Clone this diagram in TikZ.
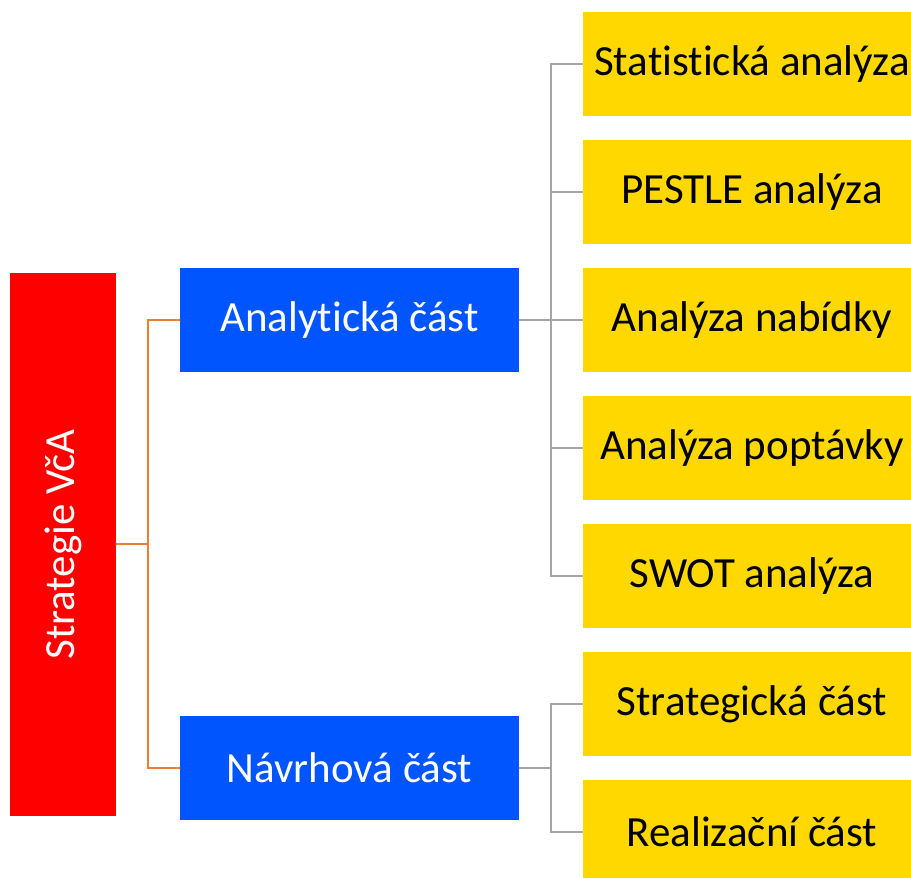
\documentclass[tikz,border=0pt]{standalone}
\usepackage{fontspec}
\setmainfont{Carlito}[Ligatures=NoCommon]
\definecolor{redbox}{HTML}{FF0000}
\definecolor{bluebox}{HTML}{0055FF}
\definecolor{yelbox}{HTML}{FFD800}
\definecolor{orline}{HTML}{ED7D31}
\definecolor{grline}{HTML}{A5A5A5}
\begin{document}
\begin{tikzpicture}[x=1pt,y=-1pt,
  base/.style={inner sep=0pt,outer sep=0pt,font=\fontsize{43}{50}\selectfont},
  rootbox/.style={base,fill=redbox,text=white,minimum width=106pt,minimum height=543pt},
  midbox/.style={base,fill=bluebox,text=white,minimum width=339pt,minimum height=104pt},
  leafbox/.style={base,fill=yelbox,minimum width=328pt,minimum height=104pt},
  leaftext/.style={base,text=black},
  orconn/.style={draw=orline,line width=2pt},
  grconn/.style={draw=grline,line width=2pt}]
\useasboundingbox (0,0) rectangle (911,878);
\node[rootbox] (root) at (63,544.5) {};
\node[base,text=white,rotate=90] (roottext) at (root.center) {Strategie VčA};
\node[midbox] (m1) at (349.5,320) {Analytická část};
\node[midbox] (m2) at (349.5,768) {Návrhová část};
\foreach \i/\y/\t in {1/64/Statistická analýza,2/192/PESTLE analýza,3/320/Analýza nabídky,4/448/Analýza poptávky,5/576/SWOT analýza,6/704/Strategická část,7/832/Realizační část} {
  \node[leafbox] (l\i) at (747,\y) {};
  \node[leaftext] (t\i) at ([xshift=5pt]l\i.center) {\t};
}
\coordinate (ro) at (148,544);
\draw[orconn] (root.east |- ro) -- (ro);
\draw[orconn] (m1.west) -| (ro) |- (m2.west);
\coordinate (g1) at (551,320);
\draw[grconn] (m1.east) -- (g1);
\foreach \i in {1,...,5} {\draw[grconn] (g1) |- (l\i.west);}
\coordinate (g2) at (551,768);
\draw[grconn] (m2.east) -- (g2);
\foreach \i in {6,7} {\draw[grconn] (g2) |- (l\i.west);}
\end{tikzpicture}
\end{document}
